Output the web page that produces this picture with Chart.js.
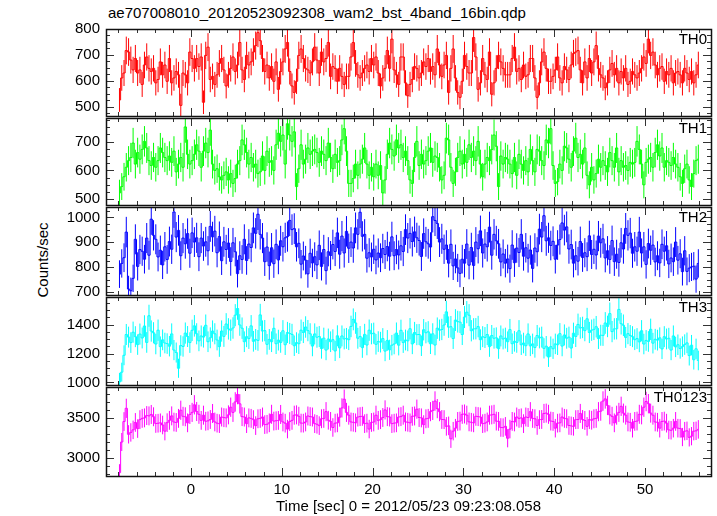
<!DOCTYPE html>
<html><head><meta charset="utf-8">
<script src="https://cdn.jsdelivr.net/npm/chart.js@4.4.0/dist/chart.umd.min.js"></script>
<style>
html,body{margin:0;padding:0;background:#fff;}
#wrap{position:relative;width:717px;height:516px;overflow:hidden;background:#fff;font-family:"Liberation Sans",Arial,sans-serif;}
#wrap canvas{position:absolute;left:0;}
#title{position:absolute;left:108px;top:4px;font-size:15px;color:#000;white-space:nowrap;}
#ylab{position:absolute;left:42px;top:260px;font-size:15px;color:#000;white-space:nowrap;transform:translate(-50%,-50%) rotate(-90deg);}
</style></head>
<body><div id="wrap"><div id="title">ae707008010_20120523092308_wam2_bst_4band_16bin.qdp</div><div id="ylab">Counts/sec</div></div>
<script>
// ---- data (count rates, 0.25 s bins) ----
const binStart = -7.875;
const binWidth = 0.25;
const timeTicks = [0, 10, 20, 30, 40, 50];

const TH0 = [526,611,630,717,711,680,642,686,630,642,
586,661,692,648,636,648,592,605,673,623,
661,598,686,592,611,636,623,505,630,623,
592,711,686,648,686,655,692,517,698,730,
605,617,586,623,667,686,642,580,623,648,
692,636,661,748,642,605,698,661,673,711,
736,786,755,686,636,661,611,655,598,673,
567,636,673,723,748,636,580,555,598,698,
723,686,648,642,
630,673,730,680,630,711,
673,686,748,617,655,648,598,648,617,586,
617,617,692,748,667,623,611,630,648,661,
636,686,661,692,630,580,611,648,717,648,
761,642,623,586,692,692,592,542,586,605,
655,648,611,630,673,655,686,636,655,623,
723,661,617,661,698,555,648,723,611,555,
536,598,698,655,630,630,767,692,567,592,
686,623,605,711,548,592,648,698,673,648,
623,623,
623,686,730,636,648,605,661,617,623,686,
686,611,536,592,673,711,648,598,598,617,
642,692,611,592,655,642,605,661,705,711,
717,642,592,673,611,686,630,673,736,648,
623,611,573,592,642,667,623,648,592,636,
611,648,586,598,636,623,611,630,648,692,
667,761,698,711,661,623,648,655,598,636,
623,648,592,630,636,623,592,648,630,605,
636,592,623,661];
const TH0_ticks = [500, 600, 700, 800];

const TH1 = [522,544,578,611,634,645,695,622,662,639,
673,701,678,634,617,645,611,634,678,662,
645,634,650,628,667,595,622,645,611,751,
656,622,634,656,689,667,611,667,695,662,
740,622,600,606,578,567,583,595,567,589,
555,572,622,634,706,689,662,622,645,611,
622,589,595,650,600,667,628,634,600,689,
729,701,723,622,762,723,701,734,544,606,
689,622,639,678,656,667,
673,662,628,667,
656,634,695,645,606,656,628,634,706,745,
667,555,555,572,622,583,622,639,678,622,
583,611,578,622,583,617,522,567,656,695,
673,650,706,678,689,645,667,634,567,555,
645,701,617,656,622,634,667,678,628,650,
645,611,567,583,712,706,611,555,595,645,
667,622,656,628,689,645,667,634,701,622,
578,622,645,634,673,723,684,544,650,622,
645,639,
622,589,645,583,656,622,600,634,595,673,
634,595,673,667,634,617,706,695,745,617,
555,561,622,600,684,678,639,611,667,712,
645,656,622,678,583,550,611,567,589,639,
611,634,617,595,662,634,611,678,595,634,
611,617,600,628,622,628,701,673,622,550,
628,639,645,611,662,689,650,678,611,634,
628,617,645,622,611,578,555,606,622,567,
544,589,634,639];
const TH1_ticks = [500, 600, 700];

const TH2 = [772,815,838,941,712,705,755,912,803,871,
864,832,917,848,993,928,912,841,868,809,
882,831,903,872,1022,921,948,846,917,894,
935,856,938,901,918,842,917,885,902,866,
964,922,945,858,923,826,902,871,897,823,
898,862,774,846,831,912,827,893,879,958,
936,1013,932,917,822,881,806,878,814,892,
829,906,882,918,923,988,951,955,882,896,
812,845,828,773,856,817,842,809,888,803,
871,786,862,847,891,863,938,852,925,857,
944,876,901,877,958,932,1021,924,932,836,
858,841,872,829,857,838,875,851,883,844,
922,846,871,849,886,863,951,917,936,903,
942,918,907,843,935,902,894,881,1003,988,
976,901,914,872,889,816,892,805,833,797,
775,832,816,893,808,879,807,901,874,946,
857,893,882,961,848,932,906,894,821,853,
816,833,794,889,818,877,859,932,844,878,
836,869,795,877,862,953,921,1007,906,918,
887,904,832,889,911,978,949,962,873,891,
816,846,824,903,839,858,842,926,851,872,
849,925,898,914,837,866,831,907,822,852,
819,898,873,956,928,937,856,882,864,941,
857,882,811,895,868,889,821,846,817,892,
864,886,813,837,822,901,828,854,782,866,
783,796,801,804,752,815];
const TH2_ticks = [700, 800, 900, 1000];

const TH3 = [1003,1071,1188,1332,1314,1276,1348,1317,1262,1335,
1308,1391,1277,1462,1356,1344,1266,1362,1248,1295,
1273,1269,1251,1336,1224,1207,1098,1256,1249,1342,
1318,1276,1361,1392,1337,1288,1322,1314,1396,1282,
1309,1356,1337,1294,1248,1356,1319,1405,1371,1362,
1377,1466,1512,1398,1376,1282,1317,1304,1392,1285,
1298,1291,1468,1356,1359,1264,1298,1282,1375,1268,
1293,1277,1358,1261,1346,1339,1333,1254,1276,1268,
1362,1346,1384,1359,1337,1252,1336,1313,1318,1235,
1307,1224,1301,1282,1296,1218,1323,1239,1322,1301,
1305,1296,1388,1437,1412,1306,1318,1241,1333,1259,
1362,1337,1341,1264,1283,1279,1304,1217,1291,1226,
1258,1266,1342,1258,1361,1276,1294,1288,1372,1267,
1346,1331,1332,1254,1365,1344,1351,1268,1337,1259,
1376,1362,1367,1398,1489,1383,1386,1304,1432,1421,
1418,1332,1453,1487,1466,1358,1371,1372,1387,1296,
1317,1311,1332,1248,1325,1306,1309,1234,1322,1301,
1307,1282,1366,1268,1285,1277,1358,1261,1273,1254,
1336,1253,1267,1242,1325,1308,1314,1236,1251,1176,
1248,1233,1267,1261,1338,1252,1329,1306,1314,1238,
1341,1318,1402,1377,1381,1359,1441,1346,1362,1368,
1386,1304,1327,1326,1412,1388,1477,1352,1371,1372,
1506,1407,1396,1312,1338,1325,1317,1296,1304,1281,
1358,1266,1291,1284,1368,1272,1299,1293,1309,1232,
1317,1301,1306,1224,1322,1246,1261,1235,1248,1262,
1274,1186,1258,1157,1233,1152];
const TH3_ticks = [1000, 1200, 1400];

const TH0123 = [2812,3196,3452,3618,3292,3316,3348,3441,3364,3476,
3492,3498,3527,3523,3541,3512,3428,3431,3436,3409,
3332,3438,3467,3523,3446,3441,3492,3594,3518,3512,
3436,3541,3567,3662,3578,3543,3467,3532,3456,3461,
3478,3553,3447,3432,3426,3509,3501,3498,3536,3632,
3567,3698,3792,3674,3514,3509,3426,3498,3492,3476,
3401,3487,3492,3509,3414,3418,3436,3543,3458,3462,
3466,3541,3447,3432,3358,3452,3467,3532,3536,3518,
3433,3432,3447,3522,3514,3509,3426,3418,3401,3487,
3492,3576,3469,3454,3378,3432,3436,3507,3623,3732,
3567,3532,3447,3443,3436,3509,3514,3518,3426,3432,
3358,3441,3447,3532,3467,3476,3503,3598,3514,3509,
3426,3432,3436,3509,3514,3532,3448,3443,3436,3518,
3522,3607,3503,3498,3414,3487,3492,3576,3592,3709,
3614,3576,3478,3476,3392,3398,3236,3332,3369,3454,
3458,3543,3547,3532,3448,3443,3436,3518,3514,3509,
3426,3432,3447,3532,3536,3543,3458,3454,3378,3376,
3392,3243,3358,3454,3447,3509,3492,3498,3426,3509,
3503,3576,3492,3487,3403,3476,3478,3554,3558,3543,
3458,3454,3369,3432,3436,3509,3492,3487,3403,3398,
3392,3476,3478,3554,3478,3466,3392,3476,3469,3487,
3492,3576,3582,3709,3736,3654,3536,3518,3436,3532,
3567,3643,3558,3532,3447,3443,3369,3454,3458,3543,
3536,3632,3703,3676,3558,3532,3447,3443,3369,3454,
3458,3432,3347,3343,3369,3454,3369,3366,3258,3332,
3336,3254,3269,3332,3336,3354];
const TH0123_ticks = [3000, 3500];

// ---- layout / style ----
const X_MIN = -9.36, X_MAX = 57.27;
const panelTop = [28, 117, 206, 296, 386];
const panelBottom = [117, 206, 296, 386, 476];
const PAD = 14, XAXIS_H = 40, AXIS_W = 106, RIGHT_PAD = 6;

const panels = [
  {name:'TH0', values:TH0, ticks:TH0_ticks, color:'#ff0000', min:464, max:800, minor:25},
  {name:'TH1', values:TH1, ticks:TH1_ticks, color:'#00ff00', min:480, max:782, minor:25},
  {name:'TH2', values:TH2, ticks:TH2_ticks, color:'#0000ff', min:688, max:1042, minor:25},
  {name:'TH3', values:TH3, ticks:TH3_ticks, color:'#00ffff', min:982, max:1592, minor:50},
  {name:'TH0123', values:TH0123, ticks:TH0123_ticks, color:'#ff00ff', min:2770, max:3885, minor:100}
];

Chart.defaults.font.family = '"Liberation Sans", Arial, sans-serif';
Chart.defaults.font.size = 15;
Chart.defaults.color = '#000';

const errPlugin = {
  id: 'errbars',
  beforeDatasetsDraw(chart) {
    const {ctx, chartArea: a, scales: {x, y}} = chart;
    const ds = chart.data.datasets[0];
    ctx.save();
    ctx.beginPath(); ctx.rect(a.left, a.top, a.right - a.left, a.bottom - a.top); ctx.clip();
    ctx.strokeStyle = ds.borderColor; ctx.lineWidth = 1;
    ctx.beginPath();
    ds.data.forEach(p => {
      const e = Math.sqrt(p.y / binWidth);
      const px = x.getPixelForValue(p.x);
      ctx.moveTo(px, y.getPixelForValue(p.y - e));
      ctx.lineTo(px, y.getPixelForValue(p.y + e));
    });
    ctx.stroke();
    ctx.restore();
  }
};

const framePlugin = {
  id: 'frame',
  afterDraw(chart) {
    const {ctx, chartArea: a, scales: {x, y}} = chart;
    const p = chart.options.plugins.frame;
    ctx.save();
    ctx.strokeStyle = '#333'; ctx.lineWidth = 1;
    ctx.beginPath();
    for (let t = Math.ceil(x.min / 2) * 2; t <= x.max; t += 2) {
      const px = Math.round(x.getPixelForValue(t)) + 0.5;
      const len = (t % 10 === 0) ? 8 : 4;
      ctx.moveTo(px, a.bottom); ctx.lineTo(px, a.bottom - len);
      ctx.moveTo(px, a.top); ctx.lineTo(px, a.top + len);
    }
    for (let v = Math.ceil(y.min / p.minor) * p.minor; v <= y.max; v += p.minor) {
      const py = Math.round(y.getPixelForValue(v)) + 0.5;
      const len = p.ticks.includes(v) ? 8 : 4;
      ctx.moveTo(a.left, py); ctx.lineTo(a.left + len, py);
      ctx.moveTo(a.right, py); ctx.lineTo(a.right - len, py);
    }
    ctx.stroke();
    ctx.strokeStyle = '#111'; ctx.lineWidth = 1.5;
    ctx.strokeRect(Math.round(a.left) + 0.5, Math.round(a.top) + 0.5,
      Math.round(a.right - a.left), Math.round(a.bottom - a.top));
    ctx.fillStyle = '#000';
    ctx.font = '15px "Liberation Sans", Arial, sans-serif';
    ctx.textAlign = 'right'; ctx.textBaseline = 'top';
    ctx.fillText(p.name, a.right - 4, a.top + 3);
    ctx.restore();
  }
};

const wrap = document.getElementById('wrap');
panels.forEach((p, i) => {
  const last = i === panels.length - 1;
  const top = panelTop[i] - PAD;
  const h = (panelBottom[i] - panelTop[i]) + PAD + (last ? XAXIS_H : PAD);
  const cv = document.createElement('canvas');
  cv.width = 717; cv.height = h;
  cv.style.top = top + 'px';
  cv.style.width = '717px'; cv.style.height = h + 'px';
  wrap.appendChild(cv);
  const pts = p.values.map((v, k) => ({x: binStart + k * binWidth, y: v}));
  new Chart(cv, {
    type: 'line',
    data: {datasets: [{data: pts, stepped: 'middle', borderColor: p.color, borderWidth: 1, pointRadius: 0, fill: false}]},
    options: {
      responsive: false, animation: false, devicePixelRatio: 1,
      layout: {padding: {left: 0, right: RIGHT_PAD, top: PAD, bottom: last ? 0 : PAD}},
      plugins: {legend: {display: false}, tooltip: {enabled: false},
        frame: {name: p.name, minor: p.minor, ticks: p.ticks}},
      scales: {
        x: {
          type: 'linear', min: X_MIN, max: X_MAX, display: last,
          grid: {display: false, drawTicks: false}, border: {display: false},
          ticks: {padding: 5, maxRotation: 0, autoSkip: false, font: {size: 15}, callback: v => String(v)},
          afterBuildTicks: s => { s.ticks = timeTicks.map(v => ({value: v})); },
          title: {display: last, text: 'Time [sec] 0 = 2012/05/23 09:23:08.058', font: {size: 15}, padding: {top: 0, bottom: 0}},
          afterFit: s => { s.height = last ? XAXIS_H : 0; }
        },
        y: {
          type: 'linear', min: p.min, max: p.max,
          grid: {display: false, drawTicks: false}, border: {display: false},
          ticks: {padding: 6, autoSkip: false, font: {size: 15}, callback: v => String(v)},
          afterBuildTicks: s => { s.ticks = p.ticks.map(v => ({value: v})); },
          afterFit: s => { s.width = AXIS_W; }
        }
      }
    },
    plugins: [errPlugin, framePlugin]
  });
});
</script></body></html>
